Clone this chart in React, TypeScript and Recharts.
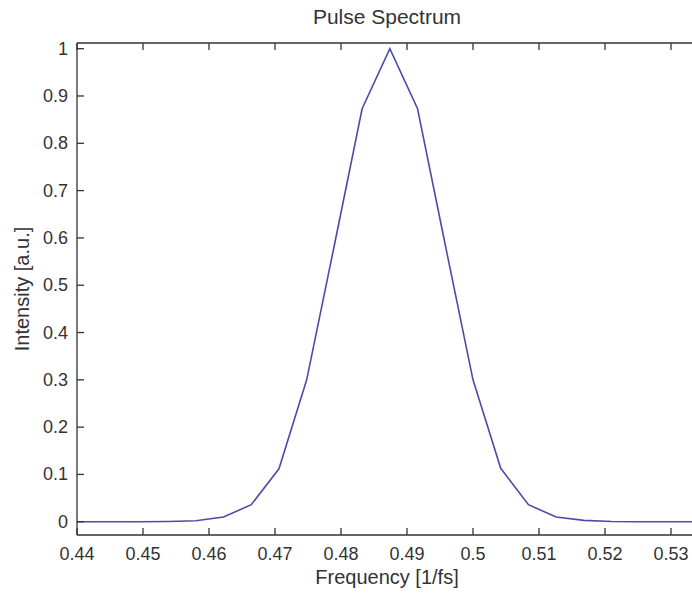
import { LineChart, Line, XAxis, YAxis } from "recharts";

// frequency grid [1/fs] and normalised intensity
const freq = [
  0.437, 0.4412, 0.4454, 0.4496, 0.4538, 0.458, 0.4622, 0.4664, 0.4706, 0.4748, 0.479, 0.4832, 0.4874,
  0.4916, 0.4958, 0.5, 0.5042, 0.5084, 0.5126, 0.5168, 0.521, 0.5252, 0.5294, 0.5336, 0.5378, 0.542,
];
const intensity = [
  0, 0, 0, 0, 0.0005, 0.002, 0.01, 0.036, 0.112, 0.3, 0.585, 0.873, 1,
  0.873, 0.585, 0.3, 0.113, 0.036, 0.01, 0.003, 0.0005, 0, 0, 0, 0, 0,
];

const xTicks = [0.44, 0.45, 0.46, 0.47, 0.48, 0.49, 0.5, 0.51, 0.52, 0.53];
const xTickLabels = ["0.44", "0.45", "0.46", "0.47", "0.48", "0.49", "0.5", "0.51", "0.52", "0.53"];
const yTicks = [0, 0.1, 0.2, 0.3, 0.4, 0.5, 0.6, 0.7, 0.8, 0.9, 1];
const yTickLabels = ["0", "0.1", "0.2", "0.3", "0.4", "0.5", "0.6", "0.7", "0.8", "0.9", "1"];

const data = freq.map((f, i) => ({ f, v: intensity[i] }));

const font = '"Liberation Sans", Arial, sans-serif';
const ink = "#333333";
const TICK = 7;
const X_GAP = 12;
const Y_GAP = 9;

// matlab style: tick marks point into the plot box
const BottomTick = ({ x, y, payload }: any) => {
  const axisY = y - X_GAP;
  const label = xTickLabels[xTicks.indexOf(payload.value)] ?? "";
  return (
    <g>
      <line x1={x} x2={x} y1={axisY} y2={axisY - TICK} stroke={ink} strokeWidth={1.3} />
      <text x={x} y={axisY + 25} textAnchor="middle" fill={ink} fontSize={18} fontFamily={font}>
        {label}
      </text>
    </g>
  );
};

const TopTick = ({ x, y }: any) => {
  const axisY = y + X_GAP;
  return <line x1={x} x2={x} y1={axisY} y2={axisY + TICK} stroke={ink} strokeWidth={1.3} />;
};

const LeftTick = ({ x, y, payload }: any) => {
  const axisX = x + Y_GAP;
  const label = yTickLabels[yTicks.indexOf(payload.value)] ?? "";
  return (
    <g>
      <line x1={axisX} x2={axisX + TICK} y1={y} y2={y} stroke={ink} strokeWidth={1.3} />
      <text x={axisX - 9} y={y + 6} textAnchor="end" fill={ink} fontSize={18} fontFamily={font}>
        {label}
      </text>
    </g>
  );
};

export default function App() {
  return (
    <div
      style={{
        position: "absolute",
        left: 0,
        top: 0,
        width: 692,
        height: 594,
        overflow: "hidden",
        background: "#fff",
        fontFamily: font,
        color: ink,
      }}
    >
      <LineChart width={760} height={594} data={data} margin={{ top: 41, right: 23, bottom: 0, left: 0 }}>
        <XAxis
          dataKey="f"
          type="number"
          domain={[0.44, 0.54]}
          allowDataOverflow
          ticks={xTicks}
          height={59}
          stroke={ink}
          strokeWidth={1.3}
          tickLine={false}
          tickSize={0}
          tickMargin={X_GAP}
          tick={<BottomTick />}
          interval={0}
        />
        <XAxis
          xAxisId="top"
          orientation="top"
          dataKey="f"
          type="number"
          domain={[0.44, 0.54]}
          allowDataOverflow
          ticks={xTicks}
          height={2}
          stroke={ink}
          strokeWidth={1.3}
          tickLine={false}
          tickSize={0}
          tickMargin={X_GAP}
          tick={<TopTick />}
          interval={0}
        />
        <YAxis
          type="number"
          domain={[-0.028, 1.012]}
          allowDataOverflow
          ticks={yTicks}
          width={77}
          stroke={ink}
          strokeWidth={1.3}
          tickLine={false}
          tickSize={0}
          tickMargin={Y_GAP}
          tick={<LeftTick />}
          interval={0}
        />
        <Line
          type="linear"
          dataKey="v"
          stroke="#4c4ca8"
          strokeWidth={1.6}
          dot={false}
          isAnimationActive={false}
        />
      </LineChart>
      <div
        style={{
          position: "absolute",
          left: 287,
          width: 200,
          top: 4,
          textAlign: "center",
          fontSize: 21,
          lineHeight: "26px",
        }}
      >
        Pulse Spectrum
      </div>
      <div
        style={{
          position: "absolute",
          left: 287,
          width: 200,
          top: 564,
          textAlign: "center",
          fontSize: 20,
          lineHeight: "26px",
        }}
      >
        Frequency [1/fs]
      </div>
      <div
        style={{
          position: "absolute",
          left: 22 - 100,
          top: 289 - 13,
          width: 200,
          textAlign: "center",
          fontSize: 20,
          lineHeight: "26px",
          transform: "rotate(-90deg)",
        }}
      >
        Intensity [a.u.]
      </div>
    </div>
  );
}
